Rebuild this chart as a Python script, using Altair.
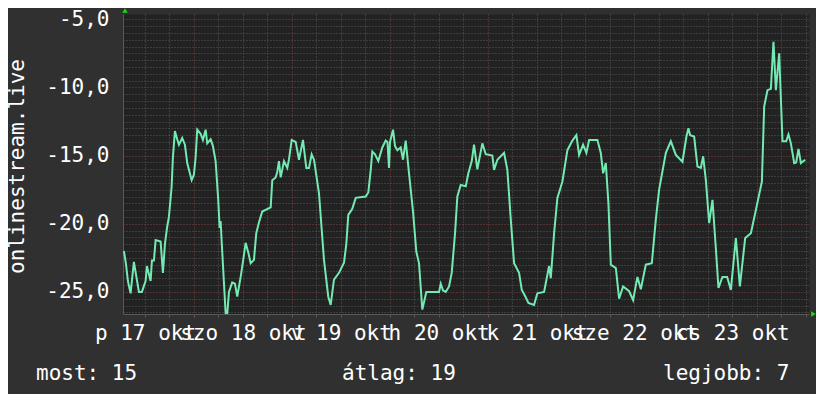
import json
import altair as alt
import pandas as pd

# ---- data (hours since 17 okt 00:00, value) ----
hours = [6.82, 7.31, 7.80, 8.46, 9.27, 10.50, 11.23, 12.14, 12.46, 13.37, 13.69, 14.18, 14.60, 15.82,
         16.39, 16.88, 17.44, 17.86, 18.52, 18.84, 19.33, 19.89, 20.31, 21.12, 21.78, 22.35, 23.43,
         23.99, 24.41, 24.80, 25.63, 26.20, 26.86, 27.25, 28.09, 28.65, 29.31, 29.95, 30.29, 30.54,
         30.79, 31.77, 32.16, 32.58, 33.38, 34.05, 34.61, 35.45, 36.01, 36.67, 37.31, 37.90, 38.71,
         39.27, 39.93, 40.74, 42.81, 43.20, 44.03, 44.42, 44.84, 45.26, 46.07, 46.88, 47.29, 47.96,
         48.94, 49.75, 50.73, 51.54, 52.20, 52.86, 53.43, 54.65, 55.88, 56.93, 57.52, 58.33, 59.56,
         60.79, 61.35, 61.84, 62.82, 63.66, 66.11, 66.75, 67.34, 67.73, 68.39, 69.20, 70.18, 71.01,
         71.45, 71.82, 72.07, 72.81, 73.30, 73.86, 74.69, 75.26, 75.92, 76.73, 77.71, 78.52, 79.18,
         79.99, 80.97, 84.09, 84.51, 85.07, 85.73, 86.54, 87.20, 88.01, 88.58, 89.41, 90.64, 91.28,
         92.11, 92.67, 93.48, 94.71, 95.54, 97.16, 97.58, 98.39, 100.03, 100.84, 101.68, 102.49,
         103.71, 104.38, 105.19, 106.00, 107.39, 108.20, 109.85, 111.07, 111.49, 112.30, 113.11,
         114.34, 115.56, 116.79, 117.77, 118.43, 119.41, 120.22, 120.88, 122.92, 123.75, 124.32,
         124.98, 125.62, 126.21, 127.44, 128.24, 129.22, 130.70, 131.67, 132.73, 133.57, 134.79,
         136.26, 137.24, 138.05, 139.70, 140.92, 142.15, 143.77, 144.75, 145.24, 145.66, 146.64,
         147.45, 148.28, 148.85, 149.51, 150.32, 151.13, 151.96, 152.60, 153.58, 154.73, 155.64,
         156.87, 157.85, 159.15, 160.55, 161.77, 163.25, 163.81, 164.62, 165.45, 166.09, 166.68,
         167.49, 168.30, 169.21, 169.77, 170.36, 171.17, 171.66, 172.22, 172.81, 173.87]
values = [-22.0, -22.9, -24.2, -25.1, -22.8, -25.0, -25.0, -24.2, -23.1, -24.2, -22.7, -22.7, -21.2, -21.3,
          -23.6, -21.5, -20.2, -19.5, -17.3, -15.1, -13.2, -13.8, -14.2, -13.7, -14.2, -15.55, -16.8,
          -16.4, -15.1, -13.1, -13.4, -13.85, -13.1, -14.1, -13.8, -14.3, -15.4, -18.25, -20.3, -19.8,
          -21.3, -26.6, -26.6, -25.0, -24.3, -24.4, -25.35, -23.9, -22.8, -21.4, -22.1, -22.9, -22.65,
          -20.7, -19.9, -19.1, -18.8, -16.8, -16.6, -16.2, -15.4, -16.6, -15.4, -15.9, -15.3, -13.85,
          -14.0, -15.3, -13.85, -15.9, -15.9, -14.9, -15.3, -17.75, -22.65, -25.35, -25.95, -24.1, -23.6,
          -22.85, -21.5, -19.35, -18.9, -18.1, -18.0, -17.7, -16.05, -14.7, -14.9, -15.4, -14.4, -13.9,
          -14.0, -15.9, -14.0, -13.1, -14.3, -14.6, -14.4, -15.3, -13.9, -16.3, -19.1, -22.05, -22.9,
          -26.3, -25.0, -25.0, -24.4, -24.9, -25.0, -24.6, -23.6, -20.7, -18.0, -17.15, -17.25, -16.3,
          -15.4, -14.2, -16.0, -14.1, -14.9, -15.0, -16.05, -15.3, -14.8, -16.05, -19.7, -22.9,
          -23.6, -24.85, -25.3, -25.8, -25.95, -25.1, -25.0, -23.1, -24.0, -20.7, -18.1,
          -16.9, -14.6, -13.9, -13.5, -14.95, -14.2, -14.8, -13.85, -13.85, -14.8, -16.3,
          -15.55, -18.5, -23.0, -23.25, -25.5, -24.6, -24.95, -25.6, -23.9, -24.8, -23.0,
          -22.9, -19.7, -17.5, -14.8, -13.95, -14.95, -15.45, -13.6, -13.0, -13.5, -13.6,
          -15.8, -15.9, -15.05, -16.8, -19.95, -18.25, -21.8, -24.7, -23.9, -23.9, -24.85,
          -21.05, -24.6, -21.05, -20.7, -19.0, -16.9, -11.4, -10.2, -10.1, -6.65, -10.2,
          -7.5, -13.95, -13.95, -13.45, -14.1, -15.55, -15.5, -14.5, -15.55, -15.3]

day_labels = ["p 17 okt", "szo 18 okt", "v 19 okt", "h 20 okt", "k 21 okt", "sze 22 okt", "cs 23 okt"]
y_title = "onlinestream.live"
footer_labels = ["most: 15", "átlag: 19", "legjobb: 7"]

x_domain = [6.6, 174.8]
y_domain = [-26.62, -4.61]
x_ticks = list(range(12, 175, 6))
y_ticks = [round(-26.5 + 0.5 * i, 1) for i in range(44)]

FONT = "DejaVu Sans Mono"
FS = 21
LINE = "#72eab2"
GRID = "#585858"
MAJOR = "#7e4040"
ARROW = "#11dd11"

df = pd.DataFrame({"hour": hours, "value": values})

x_label_expr = ("datum.value % 24 === 12 ? " + json.dumps(day_labels, ensure_ascii=False)
                + "[floor(datum.value / 24)] : ''")
y_label_expr = "datum.value % 5 === 0 ? '-' + replace(format(-datum.value, '.1f'), '.', ',') : ''"

x_enc = alt.X(
    "hour:Q",
    scale=alt.Scale(domain=x_domain, nice=False, zero=False),
    axis=alt.Axis(
        values=x_ticks, labelExpr=x_label_expr, labelOverlap=False, labelBound=False,
        labelFlush=False, labelBaseline="alphabetic", labelPadding=22, tickSize=3,
        tickColor=GRID, domainColor=GRID,
        gridColor={"condition": {"test": "datum.value % 24 === 0", "value": MAJOR}, "value": GRID},
        gridDash=[1, 2], title=None,
    ),
)
y_enc = alt.Y(
    "value:Q",
    scale=alt.Scale(domain=y_domain, nice=False, zero=False),
    axis=alt.Axis(
        values=y_ticks, labelExpr=y_label_expr, labelOverlap=False, labelBound=False,
        labelFlush=False, labelBaseline="middle", labelPadding=14, ticks=False,
        domainColor=GRID,
        gridColor={"condition": {"test": "datum.value % 5 === 0", "value": MAJOR}, "value": GRID},
        gridDash=[1, 2],
        title=y_title, titleX=-106, titleY=152, titleAlign="center", titleBaseline="middle",
        titleFont=FONT, titleFontSize=FS, titleFontWeight="normal", titleColor="#ffffff",
    ),
)

line = alt.Chart(df).mark_line(color=LINE, strokeWidth=2, clip=True).encode(x=x_enc, y=y_enc)

one = alt.Data(values=[{}])
arrow_up = alt.Chart(one).mark_point(shape="triangle-up", filled=True, color=ARROW, size=30, opacity=1).encode(
    x=alt.value(2), y=alt.value(-3.5))
arrow_right = alt.Chart(one).mark_point(shape="triangle-right", filled=True, color=ARROW, size=30, opacity=1).encode(
    x=alt.value(690.5), y=alt.value(300))

foot_x = [-87, 219, 540]
footers = [
    alt.Chart(one).mark_text(text=t, font=FONT, fontSize=FS, color="#ffffff", align="left",
                             baseline="alphabetic").encode(x=alt.value(fx), y=alt.value(366))
    for t, fx in zip(footer_labels, foot_x)
]

chart = alt.layer(line, arrow_up, arrow_right, *footers).properties(
    width=686, height=300,
    autosize=alt.AutoSizeParams(type="none"),
    padding={"left": 115, "top": 6, "right": 7, "bottom": 80},
    background="#303030",
).configure_view(fill="#222222", strokeOpacity=0).configure_axis(
    labelFont=FONT, labelFontSize=FS, labelColor="#ffffff",
)

chart.save("out.html", embed_options={"renderer": "svg", "actions": False})
